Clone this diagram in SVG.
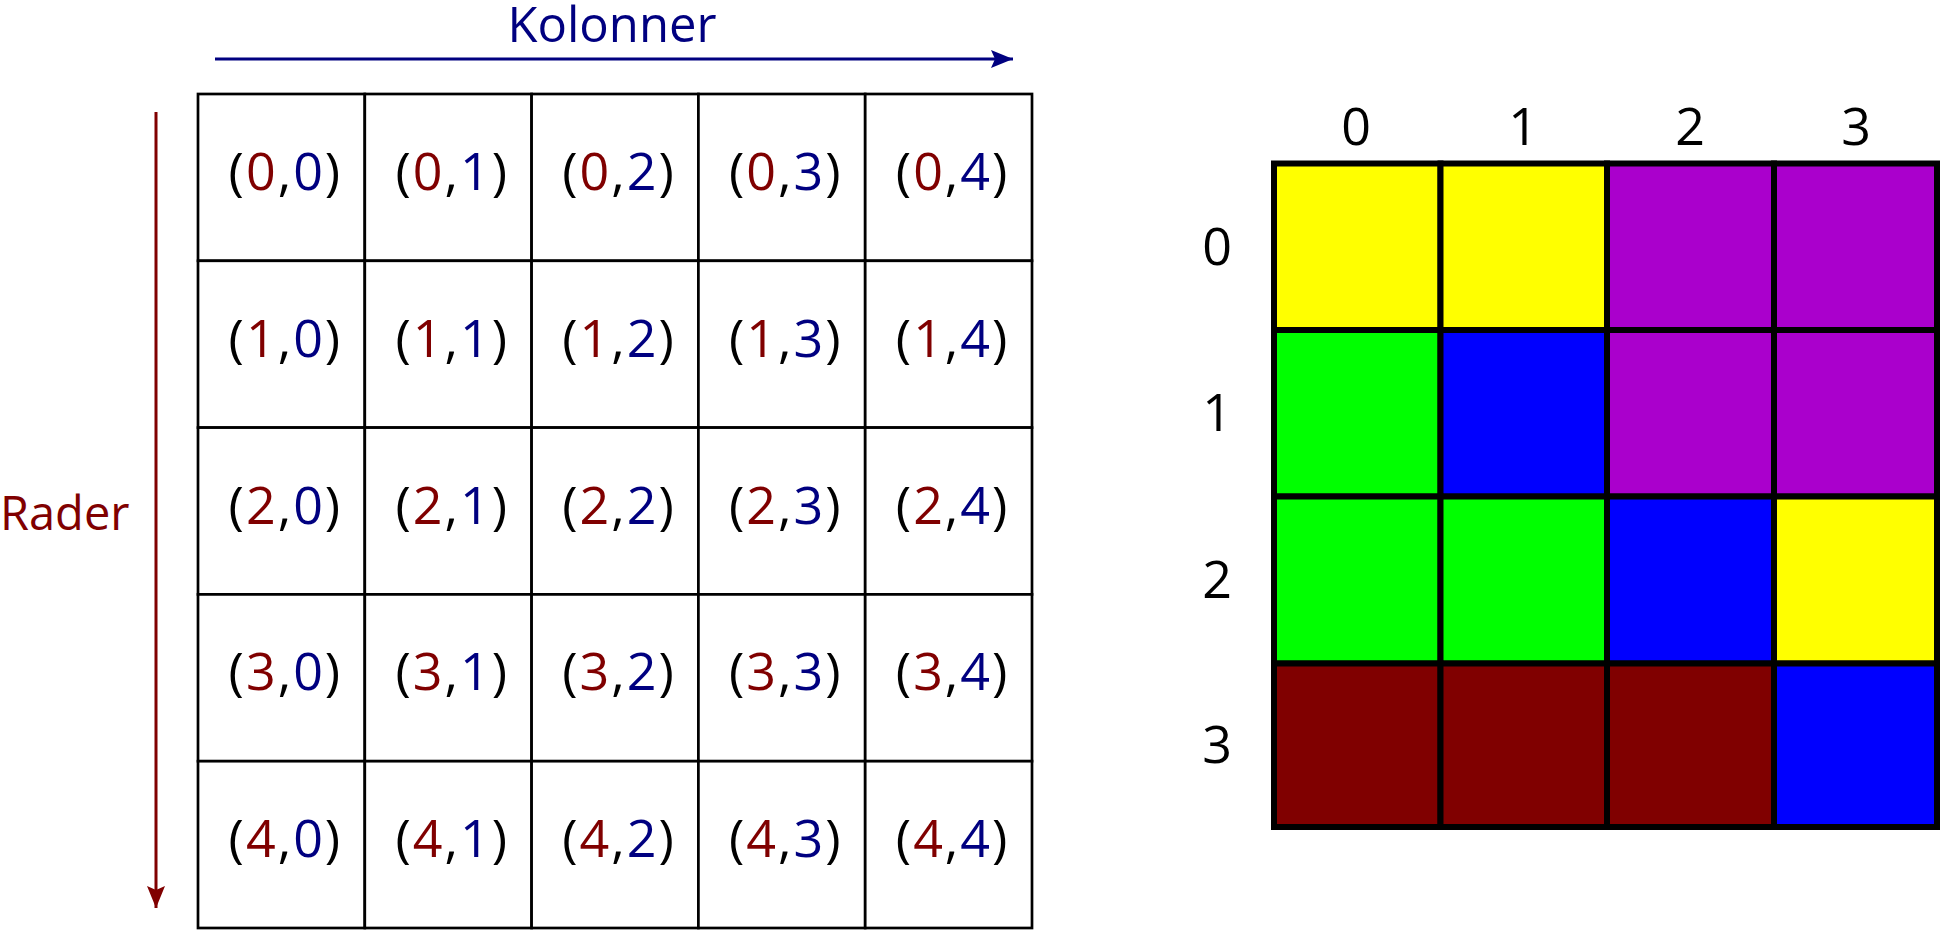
<svg xmlns="http://www.w3.org/2000/svg" width="1941" height="930" viewBox="0 0 1941 930">
<style>
.bg{fill:#ffffff}
.cell{fill:#ffffff;stroke:#000000;stroke-width:2.7}
.ct{font-family:"Open Sans","Noto Sans",sans-serif;font-size:52px;letter-spacing:2px;text-anchor:middle;fill:#000000}
.r{fill:#800000}
.b{fill:#000080}
.lab{font-family:"Open Sans","Noto Sans",sans-serif;font-size:52px;text-anchor:middle;fill:#000000}
.axis{font-family:"Open Sans","Noto Sans",sans-serif;font-size:49px}
.sq{stroke:#000000;stroke-width:6}
.y{fill:#ffff00}.p{fill:#aa00cc}.g{fill:#00ff00}.bl{fill:#0000ff}.m{fill:#800000}
</style>
<defs>
<marker id="ahB" markerUnits="userSpaceOnUse" markerWidth="24" markerHeight="18" refX="22" refY="9" orient="auto"><path d="M0,0 L22,9 L0,18 L4,9 Z" fill="#000080"/></marker>
<marker id="ahR" markerUnits="userSpaceOnUse" markerWidth="24" markerHeight="18" refX="22" refY="9" orient="auto"><path d="M0,0 L22,9 L0,18 L4,9 Z" fill="#800000"/></marker>
</defs>
<rect class="bg" x="0" y="0" width="1941" height="930"/>

<g id="connectors">
<line x1="215" y1="59" x2="1013" y2="59" stroke="#000080" stroke-width="3" marker-end="url(#ahB)"/>
<line x1="156" y1="112" x2="156" y2="908" stroke="#800000" stroke-width="3" marker-end="url(#ahR)"/>
</g>

<g id="label-kolonner"><text class="axis" x="612" y="42" text-anchor="middle" fill="#000080">Kolonner</text></g>
<g id="label-rader"><text class="axis" x="0" y="530" text-anchor="start" fill="#800000" style="font-size:47px">Rader</text></g>

<g id="left-grid">
<g id="c00"><rect class="cell" x="198" y="94" width="166.8" height="166.8"/><text class="ct" x="285.4" y="190">(<tspan class="r">0</tspan>,<tspan class="b">0</tspan>)</text></g>
<g id="c01"><rect class="cell" x="364.8" y="94" width="166.8" height="166.8"/><text class="ct" x="452.2" y="190">(<tspan class="r">0</tspan>,<tspan class="b">1</tspan>)</text></g>
<g id="c02"><rect class="cell" x="531.6" y="94" width="166.8" height="166.8"/><text class="ct" x="619" y="190">(<tspan class="r">0</tspan>,<tspan class="b">2</tspan>)</text></g>
<g id="c03"><rect class="cell" x="698.4" y="94" width="166.8" height="166.8"/><text class="ct" x="785.8" y="190">(<tspan class="r">0</tspan>,<tspan class="b">3</tspan>)</text></g>
<g id="c04"><rect class="cell" x="865.2" y="94" width="166.8" height="166.8"/><text class="ct" x="952.6" y="190">(<tspan class="r">0</tspan>,<tspan class="b">4</tspan>)</text></g>

<g id="c10"><rect class="cell" x="198" y="260.8" width="166.8" height="166.8"/><text class="ct" x="285.4" y="356.8">(<tspan class="r">1</tspan>,<tspan class="b">0</tspan>)</text></g>
<g id="c11"><rect class="cell" x="364.8" y="260.8" width="166.8" height="166.8"/><text class="ct" x="452.2" y="356.8">(<tspan class="r">1</tspan>,<tspan class="b">1</tspan>)</text></g>
<g id="c12"><rect class="cell" x="531.6" y="260.8" width="166.8" height="166.8"/><text class="ct" x="619" y="356.8">(<tspan class="r">1</tspan>,<tspan class="b">2</tspan>)</text></g>
<g id="c13"><rect class="cell" x="698.4" y="260.8" width="166.8" height="166.8"/><text class="ct" x="785.8" y="356.8">(<tspan class="r">1</tspan>,<tspan class="b">3</tspan>)</text></g>
<g id="c14"><rect class="cell" x="865.2" y="260.8" width="166.8" height="166.8"/><text class="ct" x="952.6" y="356.8">(<tspan class="r">1</tspan>,<tspan class="b">4</tspan>)</text></g>

<g id="c20"><rect class="cell" x="198" y="427.6" width="166.8" height="166.8"/><text class="ct" x="285.4" y="523.6">(<tspan class="r">2</tspan>,<tspan class="b">0</tspan>)</text></g>
<g id="c21"><rect class="cell" x="364.8" y="427.6" width="166.8" height="166.8"/><text class="ct" x="452.2" y="523.6">(<tspan class="r">2</tspan>,<tspan class="b">1</tspan>)</text></g>
<g id="c22"><rect class="cell" x="531.6" y="427.6" width="166.8" height="166.8"/><text class="ct" x="619" y="523.6">(<tspan class="r">2</tspan>,<tspan class="b">2</tspan>)</text></g>
<g id="c23"><rect class="cell" x="698.4" y="427.6" width="166.8" height="166.8"/><text class="ct" x="785.8" y="523.6">(<tspan class="r">2</tspan>,<tspan class="b">3</tspan>)</text></g>
<g id="c24"><rect class="cell" x="865.2" y="427.6" width="166.8" height="166.8"/><text class="ct" x="952.6" y="523.6">(<tspan class="r">2</tspan>,<tspan class="b">4</tspan>)</text></g>

<g id="c30"><rect class="cell" x="198" y="594.4" width="166.8" height="166.8"/><text class="ct" x="285.4" y="690.4">(<tspan class="r">3</tspan>,<tspan class="b">0</tspan>)</text></g>
<g id="c31"><rect class="cell" x="364.8" y="594.4" width="166.8" height="166.8"/><text class="ct" x="452.2" y="690.4">(<tspan class="r">3</tspan>,<tspan class="b">1</tspan>)</text></g>
<g id="c32"><rect class="cell" x="531.6" y="594.4" width="166.8" height="166.8"/><text class="ct" x="619" y="690.4">(<tspan class="r">3</tspan>,<tspan class="b">2</tspan>)</text></g>
<g id="c33"><rect class="cell" x="698.4" y="594.4" width="166.8" height="166.8"/><text class="ct" x="785.8" y="690.4">(<tspan class="r">3</tspan>,<tspan class="b">3</tspan>)</text></g>
<g id="c34"><rect class="cell" x="865.2" y="594.4" width="166.8" height="166.8"/><text class="ct" x="952.6" y="690.4">(<tspan class="r">3</tspan>,<tspan class="b">4</tspan>)</text></g>

<g id="c40"><rect class="cell" x="198" y="761.2" width="166.8" height="166.8"/><text class="ct" x="285.4" y="857.2">(<tspan class="r">4</tspan>,<tspan class="b">0</tspan>)</text></g>
<g id="c41"><rect class="cell" x="364.8" y="761.2" width="166.8" height="166.8"/><text class="ct" x="452.2" y="857.2">(<tspan class="r">4</tspan>,<tspan class="b">1</tspan>)</text></g>
<g id="c42"><rect class="cell" x="531.6" y="761.2" width="166.8" height="166.8"/><text class="ct" x="619" y="857.2">(<tspan class="r">4</tspan>,<tspan class="b">2</tspan>)</text></g>
<g id="c43"><rect class="cell" x="698.4" y="761.2" width="166.8" height="166.8"/><text class="ct" x="785.8" y="857.2">(<tspan class="r">4</tspan>,<tspan class="b">3</tspan>)</text></g>
<g id="c44"><rect class="cell" x="865.2" y="761.2" width="166.8" height="166.8"/><text class="ct" x="952.6" y="857.2">(<tspan class="r">4</tspan>,<tspan class="b">4</tspan>)</text></g>
</g>

<g id="right-grid">
<g id="s00"><rect class="sq y" x="1274" y="163.5" width="166.5" height="166.5"/></g>
<g id="s01"><rect class="sq y" x="1440.5" y="163.5" width="166.5" height="166.5"/></g>
<g id="s02"><rect class="sq p" x="1607" y="163.5" width="167" height="166.5"/></g>
<g id="s03"><rect class="sq p" x="1774" y="163.5" width="163" height="166.5"/></g>

<g id="s10"><rect class="sq g" x="1274" y="330" width="166.5" height="166.5"/></g>
<g id="s11"><rect class="sq bl" x="1440.5" y="330" width="166.5" height="166.5"/></g>
<g id="s12"><rect class="sq p" x="1607" y="330" width="167" height="166.5"/></g>
<g id="s13"><rect class="sq p" x="1774" y="330" width="163" height="166.5"/></g>

<g id="s20"><rect class="sq g" x="1274" y="496.5" width="166.5" height="167"/></g>
<g id="s21"><rect class="sq g" x="1440.5" y="496.5" width="166.5" height="167"/></g>
<g id="s22"><rect class="sq bl" x="1607" y="496.5" width="167" height="167"/></g>
<g id="s23"><rect class="sq y" x="1774" y="496.5" width="163" height="167"/></g>

<g id="s30"><rect class="sq m" x="1274" y="663.5" width="166.5" height="163.5"/></g>
<g id="s31"><rect class="sq m" x="1440.5" y="663.5" width="166.5" height="163.5"/></g>
<g id="s32"><rect class="sq m" x="1607" y="663.5" width="167" height="163.5"/></g>
<g id="s33"><rect class="sq bl" x="1774" y="663.5" width="163" height="163.5"/></g>
</g>

<g id="col-labels">
<text class="lab" x="1356" y="145">0</text>
<text class="lab" x="1523" y="145">1</text>
<text class="lab" x="1690" y="145">2</text>
<text class="lab" x="1856" y="145">3</text>
</g>
<g id="row-labels">
<text class="lab" x="1217" y="265">0</text>
<text class="lab" x="1217" y="431">1</text>
<text class="lab" x="1217" y="598">2</text>
<text class="lab" x="1217" y="763">3</text>
</g>
</svg>
